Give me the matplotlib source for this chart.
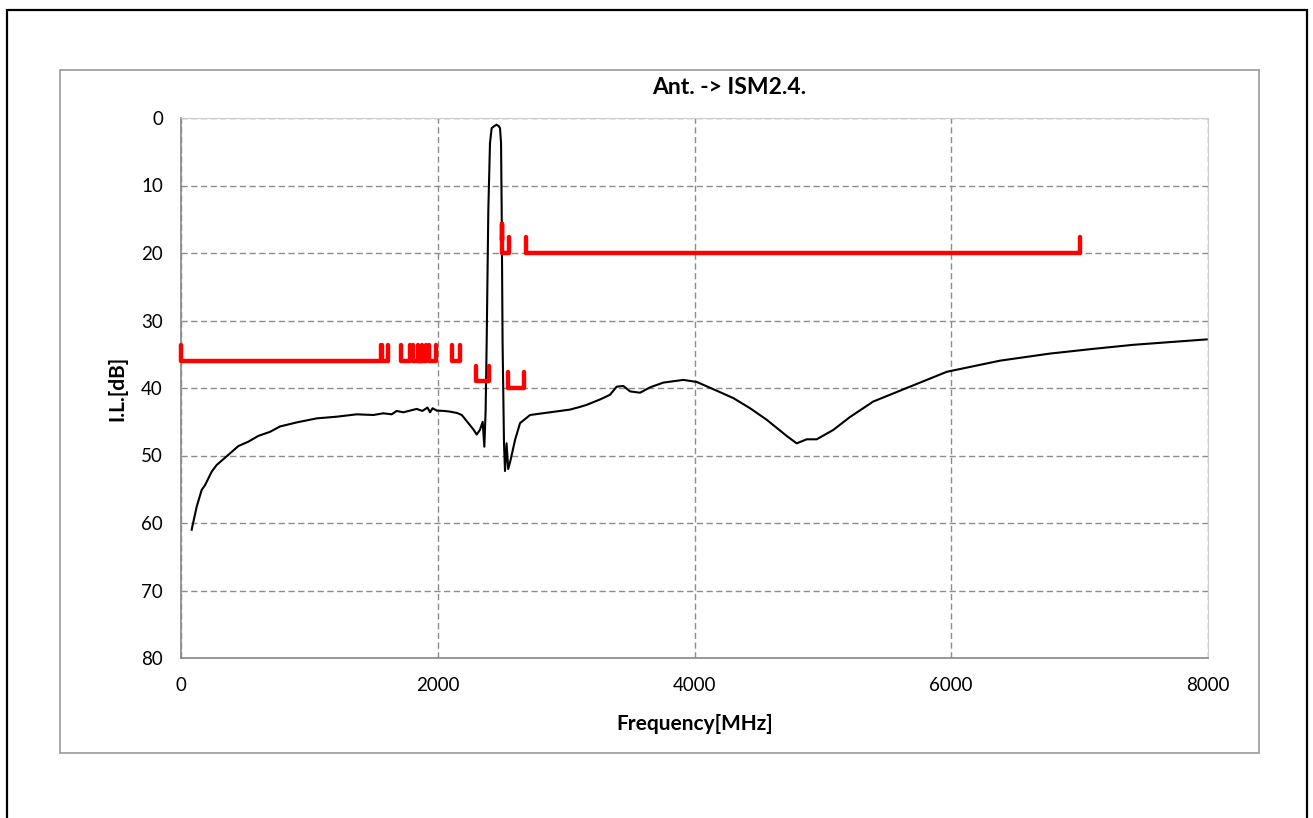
import matplotlib
matplotlib.use("Agg")
import matplotlib.pyplot as plt
from matplotlib.patches import Rectangle

plt.rcParams['font.family'] = ['Lato', 'DejaVu Sans']

# measured insertion loss (Ant. -> ISM2.4)
freq_mhz = [83, 122, 161, 187, 239, 278, 369, 447, 525, 602, 693, 771, 901, 1057,
            1213, 1369, 1498, 1576, 1641, 1680, 1732, 1836, 1880, 1920, 1940, 1960,
            1992, 2050, 2095, 2150, 2187, 2238, 2280, 2303, 2329, 2350, 2363, 2373,
            2381, 2394, 2407, 2420, 2440, 2458, 2475, 2485, 2493, 2498, 2505, 2516,
            2524, 2536, 2549, 2567, 2602, 2641, 2719, 2874, 3030, 3108, 3160, 3264,
            3342, 3394, 3446, 3498, 3576, 3654, 3757, 3913, 4017, 4173, 4303, 4433,
            4562, 4718, 4796, 4874, 4952, 5082, 5211, 5393, 5705, 5965, 6380, 6769,
            7107, 7419, 7990]
il_db = [61.0, 57.6, 55.1, 54.4, 52.4, 51.4, 49.9, 48.6, 47.95, 47.1, 46.5, 45.7, 45.1, 44.5,
         44.25, 43.9, 44.0, 43.75, 43.9, 43.4, 43.6, 43.1, 43.4, 42.9, 43.6, 43.0,
         43.35, 43.4, 43.5, 43.7, 44.0, 45.2, 46.2, 46.9, 46.2, 45.0, 48.7, 43.3,
         33.3, 13.6, 3.7, 1.5, 1.2, 1.0, 1.2, 1.5, 3.7, 13.6, 33.3, 48.2,
         52.3, 48.2, 52.0, 50.7, 47.7, 45.2, 44.0, 43.6, 43.2, 42.8, 42.5, 41.7,
         41.0, 39.8, 39.7, 40.5, 40.7, 39.9, 39.2, 38.8, 39.1, 40.4, 41.5, 43.0,
         44.7, 47.1, 48.2, 47.6, 47.6, 46.2, 44.3, 42.0, 39.6, 37.6, 35.95, 34.9,
         34.2, 33.6, 32.8]

# spec mask segments
mask_start = [0, 1565, 1710, 1805, 1850, 1930, 2110, 2300, 2545, 2500, 2497, 2690]
mask_stop = [1559, 1610, 1785, 1880, 1910, 1990, 2170, 2400, 2670, 2555, 2503, 7000]
mask_level = [36, 36, 36, 36, 36, 36, 36, 39, 40, 20, 18, 20]
tick_h = 2.3

W, H = 1313, 818
fig = plt.figure(figsize=(W / 100, H / 100), dpi=100)

# outer border and chart area frame
fig.add_artist(Rectangle((7 / W, -0.05), 1300 / W, 1.05 - 10 / H, transform=fig.transFigure,
                         fill=False, edgecolor='black', linewidth=1.6))
fig.add_artist(Rectangle((60 / W, 1 - 753 / H), 1199 / W, 683 / H, transform=fig.transFigure,
                         fill=False, edgecolor='#999999', linewidth=1.2))

ax = fig.add_axes([181 / W, 1 - 658 / H, 1027 / W, 540 / H])

ax.plot(freq_mhz, il_db, color='black', linewidth=1.5, zorder=3)

for f1, f2, lvl in zip(mask_start, mask_stop, mask_level):
    ax.plot([f1, f1, f2, f2], [lvl - tick_h, lvl, lvl, lvl - tick_h], color='#ff0000',
            linewidth=3.2, solid_capstyle='round', solid_joinstyle='round', zorder=4,
            clip_on=False)

ax.set_xlim(0, 8000)
ax.set_ylim(80, 0)
ax.set_xticks([0, 2000, 4000, 6000, 8000])
ax.set_yticks(range(0, 81, 10))
ax.grid(True, color='#8c8c8c', linestyle=(0, (4.5, 2.5)), linewidth=1.0)
ax.set_axisbelow(True)
ax.tick_params(length=0, labelsize=13.5, colors='black')
ax.tick_params(axis='y', pad=13)
ax.tick_params(axis='x', pad=14)
for s in ['top', 'right']:
    ax.spines[s].set_color('#cccccc')
for s in ['left', 'bottom']:
    ax.spines[s].set_color('#888888')
    ax.spines[s].set_linewidth(1.2)

fig.text(729 / W, 1 - 88 / H, 'Ant. -> ISM2.4.', ha='center', va='center',
         fontsize=16.5, fontweight='bold')
fig.text(695 / W, 1 - 724 / H, 'Frequency[MHz]', ha='center', va='center',
         fontsize=15, fontweight='bold')
fig.text(117 / W, 1 - 388 / H, 'I.L.[dB]', ha='center', va='center', rotation=90,
         fontsize=15, fontweight='bold')

fig.savefig('out.png', dpi=100)
